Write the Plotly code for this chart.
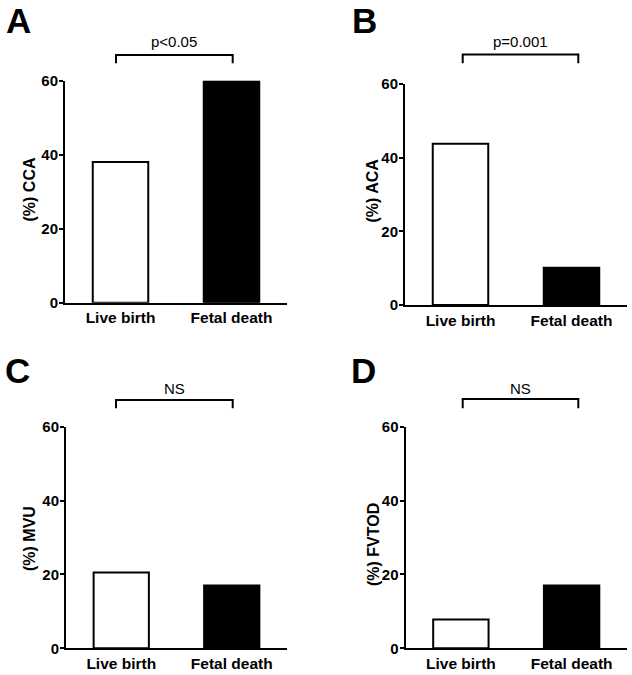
import plotly.graph_objects as go

W, H = 632, 675

categories = ["Live birth", "Fetal death"]
cca = [38.0, 60.0]
aca = [43.8, 10.1]
mvu = [20.5, 17.0]
fvtod = [7.8, 17.0]
y_titles = ["(%) CCA", "(%) ACA", "(%) MVU", "(%) FVTOD"]
panel_letters = ["A", "B", "C", "D"]
p_labels = ["p<0.05", "p=0.001", "NS", "NS"]
y_ticks = [0, 20, 40, 60]
bar_fill = ["white", "black"]

series = [cca, aca, mvu, fvtod]

# pixel layout of each panel (plot box, bracket, labels)
panels = [
    dict(x0=65, x1=287, y0=80.7, y1=302.7, bx0=116, bx1=232.7, by_top=55, by_bot=63.3,
         py=42, lx=18, ly=20, tx=29.5, ty=190),
    dict(x0=405, x1=627, y0=84, y1=305, bx0=462.7, bx1=578.3, by_top=54.5, by_bot=63.3,
         py=42, lx=364.5, ly=20, tx=371.5, ty=191),
    dict(x0=66, x1=287, y0=426.7, y1=648.3, bx0=116, bx1=232.7, by_top=400, by_bot=408.3,
         py=388, lx=17.5, ly=371, tx=29, ty=539),
    dict(x0=405.5, x1=627, y0=426.7, y1=648.3, bx0=462.7, bx1=578.3, by_top=399, by_bot=408.3,
         py=388, lx=363.5, ly=371, tx=373, ty=545),
]

FONT = "Liberation Sans, Arial, sans-serif"


def px(x):
    return x / W


def py(y):
    return 1 - y / H


fig = go.Figure()
shapes = []
annotations = []
layout_axes = {}

for i, (vals, p) in enumerate(zip(series, panels)):
    n = i + 1
    xa = "x" if n == 1 else f"x{n}"
    ya = "y" if n == 1 else f"y{n}"
    fig.add_trace(go.Bar(
        x=categories, y=vals, xaxis=xa, yaxis=ya,
        width=0.5,
        marker=dict(color=bar_fill, line=dict(color="black", width=2)),
        showlegend=False, hoverinfo="x+y",
    ))
    xkey = "xaxis" if n == 1 else f"xaxis{n}"
    ykey = "yaxis" if n == 1 else f"yaxis{n}"
    layout_axes[xkey] = dict(
        domain=[px(p["x0"]), px(p["x1"])], anchor=ya,
        type="category", range=[-0.5, 1.5], automargin=False,
        showline=True, linecolor="black", linewidth=2,
        ticks="", showgrid=False, zeroline=False,
        tickfont=dict(family=FONT, size=15.5, color="black", weight="bold"),
    )
    layout_axes[ykey] = dict(
        domain=[py(p["y1"]), py(p["y0"])], anchor=xa,
        range=[0, 60], tickvals=y_ticks, automargin=False,
        showline=True, linecolor="black", linewidth=2,
        ticks="outside", ticklen=4, tickwidth=2, tickcolor="black",
        ticklabelstandoff=-2,
        showgrid=False, zeroline=False,
        tickfont=dict(family=FONT, size=15, color="black", weight="bold"),
    )
    # significance bracket
    shapes.append(dict(
        type="path", xref="paper", yref="paper",
        path=(f"M {px(p['bx0'])} {py(p['by_bot'])} L {px(p['bx0'])} {py(p['by_top'])} "
              f"L {px(p['bx1'])} {py(p['by_top'])} L {px(p['bx1'])} {py(p['by_bot'])}"),
        line=dict(color="black", width=2),
    ))
    annotations.append(dict(
        text=p_labels[i], xref="paper", yref="paper",
        x=px((p["bx0"] + p["bx1"]) / 2), y=py(p["py"]),
        xanchor="center", yanchor="middle", showarrow=False,
        font=dict(family=FONT, size=15, color="black"),
    ))
    annotations.append(dict(
        text=f"<b>{panel_letters[i]}</b>", xref="paper", yref="paper",
        x=px(p["lx"]), y=py(p["ly"]),
        xanchor="center", yanchor="middle", showarrow=False,
        font=dict(family=FONT, size=35, color="black"),
    ))
    annotations.append(dict(
        text=f"<b>{y_titles[i]}</b>", xref="paper", yref="paper",
        x=px(p["tx"]), y=py(p["ty"]), textangle=-90,
        xanchor="center", yanchor="middle", showarrow=False,
        font=dict(family=FONT, size=16, color="black"),
    ))

fig.update_layout(
    template="none",
    width=W, height=H,
    margin=dict(l=0, r=0, t=0, b=0, pad=0),
    paper_bgcolor="white", plot_bgcolor="white",
    shapes=shapes, annotations=annotations,
    bargap=0.5,
    **layout_axes,
)

fig.write_html(
    "out.html",
    config={"displayModeBar": False},
    post_script="document.body.style.margin='0';document.body.style.overflow='hidden';",
)
